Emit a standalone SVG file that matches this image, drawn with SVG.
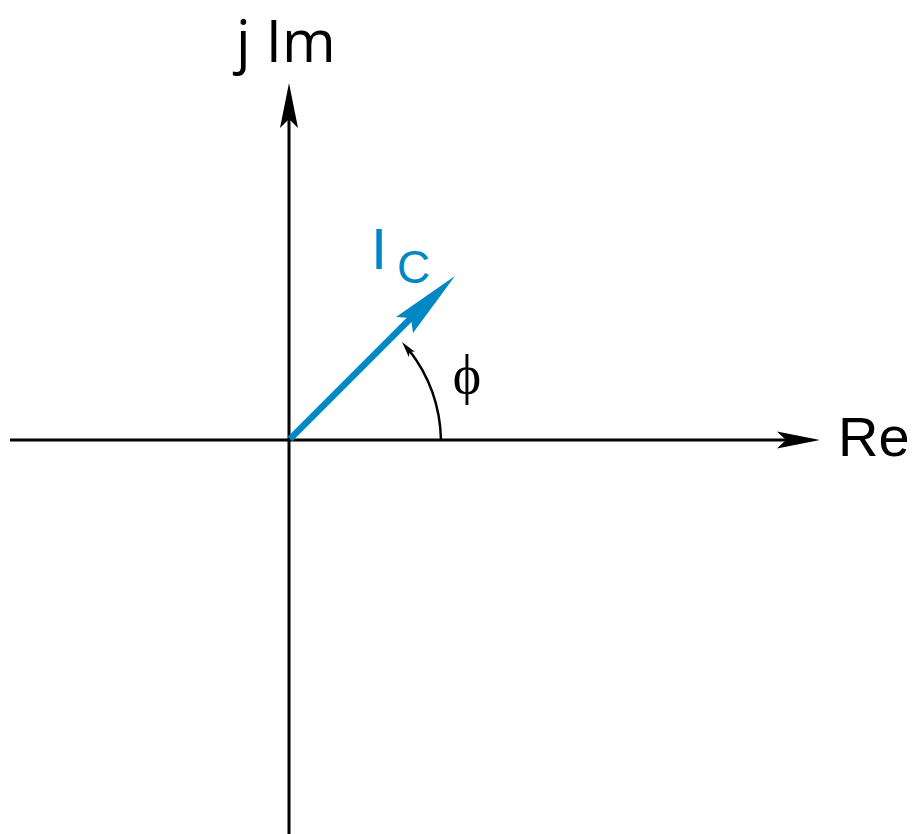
<svg xmlns="http://www.w3.org/2000/svg" width="919" height="834" viewBox="0 0 919 834">
<style>
.ax{stroke:#000;stroke-width:3;fill:none}
.lbl{font-family:"Liberation Sans",Arial,sans-serif;fill:#000}
.blue{fill:#0088c4}
</style>
<rect width="919" height="834" fill="#fff"/>
<g id="axes">
<line class="ax" x1="10" y1="440" x2="790" y2="440"/>
<polygon points="820,440 777,431.5 786,440 777,448.5" fill="#000"/>
<line class="ax" x1="289" y1="834" x2="289" y2="115"/>
<polygon points="289,83 280,128 289,119 298,128" fill="#000"/>
</g>
<g id="labels">
<text x="236" y="62" font-family="'Open Sans','Noto Sans',sans-serif" font-size="58">j Im</text>
<text class="lbl" x="838" y="456" font-size="56">Re</text>
</g>
<g id="vector">
<line x1="290" y1="439" x2="411" y2="318" stroke="#0088c4" stroke-width="6.5"/>
<polygon class="blue" points="455,276 396,317 411,318 413,333"/>
<text class="lbl blue" x="371" y="269" font-size="58">I</text>
<text class="lbl blue" x="397" y="283" font-size="46">C</text>
</g>
<g id="angle">
<path d="M 441 440 A 152 152 0 0 0 409 350" stroke="#000" stroke-width="2.5" fill="none"/>
<polygon points="402,342 414.8,351.8 409.8,351.5 408.8,357" fill="#000"/>
<text x="467" y="393" font-family="'Liberation Serif','Times New Roman',serif" font-size="54" text-anchor="middle">ϕ</text>
</g>
</svg>
